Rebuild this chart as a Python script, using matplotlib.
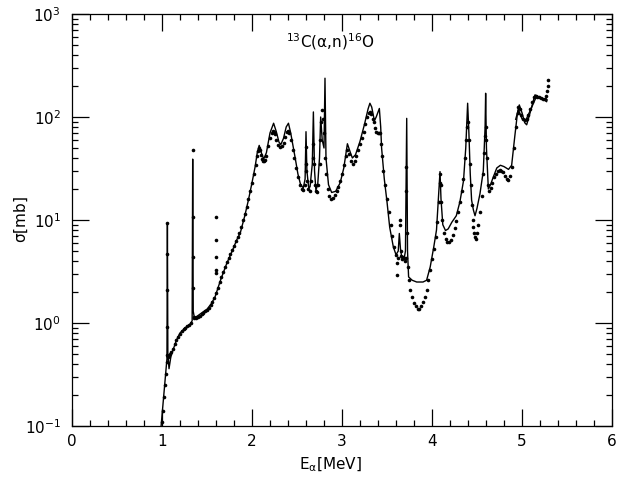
import matplotlib
matplotlib.use("Agg")
import matplotlib.pyplot as plt
from matplotlib.ticker import MultipleLocator, LogLocator, NullFormatter

plt.rcParams['font.family'] = ['DejaVu Sans']
plt.rcParams['mathtext.default'] = 'regular'

# ---- R-matrix fit (solid line) ----
fit_E = [0.99, 1.055, 1.060, 1.065, 1.078, 1.10, 1.126, 1.16, 1.20, 1.26, 1.31, 1.335,
         1.341, 1.347, 1.36, 1.40, 1.45, 1.50, 1.55, 1.59, 1.65, 1.72, 1.78, 1.83, 1.87,
         1.92, 1.96, 2.00, 2.035, 2.06, 2.08, 2.10, 2.13, 2.16, 2.20, 2.24, 2.27, 2.30,
         2.32, 2.35, 2.38, 2.405, 2.43, 2.46, 2.48, 2.51, 2.54, 2.57, 2.59, 2.600, 2.61,
         2.63, 2.645, 2.67, 2.682, 2.695, 2.71, 2.73, 2.75, 2.763, 2.78, 2.80, 2.811,
         2.822, 2.85, 2.885, 2.93, 2.98, 3.02, 3.06, 3.09, 3.115, 3.15, 3.20, 3.25, 3.29,
         3.31, 3.33, 3.36, 3.38, 3.415, 3.43, 3.44, 3.47, 3.50, 3.53, 3.57, 3.60, 3.625,
         3.637, 3.65, 3.663, 3.69, 3.705, 3.719, 3.728, 3.74, 3.78, 3.83, 3.90, 3.94, 3.98,
         4.02, 4.05, 4.075, 4.089, 4.10, 4.12, 4.15, 4.18, 4.22, 4.27, 4.31, 4.35, 4.375,
         4.396, 4.41, 4.425, 4.44, 4.46, 4.478, 4.50, 4.533, 4.57, 4.59, 4.596, 4.605,
         4.626, 4.65, 4.68, 4.72, 4.76, 4.80, 4.85, 4.885, 4.92, 4.95, 4.97, 5.00, 5.03,
         5.052, 5.09, 5.144, 5.20, 5.274]
fit_S = [0.1, 0.45, 9.3, 0.5, 0.36, 0.48, 0.56, 0.68, 0.8, 0.9, 0.97, 1.05,
         39, 1.3, 1.12, 1.18, 1.27, 1.36, 1.55, 1.8, 2.6, 3.8, 5.0, 6.4, 7.5,
         11, 15.6, 23, 33, 46, 53, 46, 39, 45, 70, 87, 72, 57,
         54, 62, 80, 87, 70, 50, 40, 28, 22, 20.5, 25, 72, 30,
         20.5, 21, 35, 112, 30, 19.5, 22, 40, 100, 60, 50, 238,
         40, 22, 18.5, 19, 23, 32, 55, 46, 40, 43, 58, 85, 120,
         136, 125, 92, 100, 121, 80, 50, 25, 15, 8.5, 5.5, 4.6, 5.0,
         7.4, 5.2, 4.4, 4.2, 5.0, 97, 5.0, 2.8, 2.6, 2.5, 2.5, 2.6, 3.5,
         5.5, 8, 18, 29.5, 16, 9, 7.9, 8.2, 9.5, 11, 15, 24, 50,
         136, 70, 28, 15.6, 12.5, 11, 13, 18, 30, 80, 170, 50,
         20, 22, 26, 32, 34, 33, 31, 34, 65, 110, 131, 110, 88,
         84, 110, 164, 155, 141]

# second fit branch at the high-energy end
fit2_E = [4.93, 4.96, 5.00, 5.04, 5.10, 5.16, 5.22, 5.28]
fit2_S = [95, 118, 96, 92, 120, 158, 152, 146]

# ---- experimental data (dots) ----
dat_E = [1.00, 1.01, 1.02, 1.03, 1.04, 1.05, 1.06, 1.06, 1.06, 1.06, 1.06,
         1.065, 1.07, 1.08, 1.09, 1.10, 1.12, 1.14, 1.16, 1.18, 1.20, 1.22, 1.24, 1.26,
         1.28, 1.30, 1.32, 1.341, 1.341, 1.341, 1.341, 1.35, 1.36, 1.38, 1.40, 1.42, 1.44,
         1.46, 1.48, 1.50, 1.52, 1.54, 1.56, 1.58, 1.597, 1.597, 1.597, 1.597, 1.597, 1.60,
         1.62, 1.64, 1.66, 1.68, 1.70, 1.72, 1.74, 1.76, 1.78, 1.80, 1.82, 1.84, 1.86,
         1.88, 1.90, 1.92, 1.94, 1.96, 1.98, 2.00, 2.02, 2.04, 2.06, 2.07, 2.08, 2.09,
         2.10, 2.11, 2.12, 2.13, 2.14, 2.16, 2.18, 2.20, 2.22, 2.23, 2.24, 2.25, 2.27,
         2.29, 2.31, 2.33, 2.35, 2.37, 2.39, 2.40, 2.41, 2.43, 2.45, 2.47, 2.49, 2.51,
         2.53, 2.55, 2.57, 2.585, 2.595, 2.60, 2.605, 2.615, 2.625, 2.64, 2.66, 2.675,
         2.682, 2.69, 2.70, 2.71, 2.72, 2.735, 2.75, 2.76, 2.77, 2.78, 2.79, 2.80, 2.81,
         2.82, 2.84, 2.86, 2.88, 2.90, 2.92, 2.94, 2.96, 2.98, 3.00, 3.02, 3.04, 3.06,
         3.08, 3.10, 3.12, 3.14, 3.16, 3.18, 3.20, 3.22, 3.24, 3.26, 3.28, 3.30, 3.31,
         3.32, 3.34, 3.35, 3.37, 3.38, 3.40, 3.41, 3.42, 3.43, 3.44, 3.46, 3.48, 3.50,
         3.52, 3.54, 3.56, 3.58, 3.60, 3.61, 3.615, 3.625, 3.64, 3.645, 3.65, 3.66, 3.67,
         3.68, 3.69, 3.70, 3.71, 3.716, 3.716, 3.72, 3.73, 3.74, 3.76, 3.78, 3.80, 3.82,
         3.84, 3.86, 3.88, 3.90, 3.92, 3.94, 3.96, 3.98, 4.00, 4.02, 4.04, 4.06, 4.075,
         4.085, 4.09, 4.095, 4.10, 4.11, 4.13, 4.15, 4.17, 4.19, 4.21, 4.23, 4.25, 4.27,
         4.29, 4.31, 4.33, 4.35, 4.37, 4.38, 4.39, 4.40, 4.41, 4.42, 4.43, 4.44, 4.45,
         4.46, 4.47, 4.48, 4.49, 4.50, 4.51, 4.53, 4.55, 4.57, 4.58, 4.59, 4.595, 4.60,
         4.61, 4.62, 4.63, 4.65, 4.67, 4.69, 4.71, 4.73, 4.75, 4.77, 4.79, 4.81, 4.83,
         4.85, 4.87, 4.89, 4.91, 4.93, 4.95, 4.96, 4.975, 4.99, 5.01, 5.03, 5.05, 5.07,
         5.09, 5.11, 5.13, 5.15, 5.17, 5.19, 5.21, 5.23, 5.25, 5.27, 5.28, 5.285, 5.29]
dat_S = [0.11, 0.14, 0.19, 0.25, 0.32, 0.42, 9.3, 4.7, 2.1, 0.91, 0.49,
         0.48, 0.47, 0.48, 0.50, 0.52, 0.56, 0.62, 0.68, 0.73, 0.78, 0.83, 0.87, 0.90,
         0.93, 0.96, 1.0, 48, 10.8, 4.35, 2.2, 1.15, 1.12, 1.12, 1.15, 1.18, 1.22,
         1.26, 1.30, 1.35, 1.40, 1.48, 1.60, 1.75, 10.8, 6.4, 4.4, 3.3, 3.05, 1.95,
         2.2, 2.5, 2.8, 3.1, 3.5, 3.9, 4.3, 4.7, 5.1, 5.6, 6.2, 6.8, 7.4,
         8.5, 10, 11.5, 13.5, 16, 19, 23, 28, 34, 42, 47, 50, 48,
         43, 39, 37, 37, 38, 42, 52, 62, 70, 73, 72, 68, 60,
         53, 51, 52, 56, 64, 71, 73, 70, 60, 48, 40, 32, 26,
         22, 20, 19.5, 22, 30, 51, 35, 24, 20, 19, 24, 40,
         55, 35, 22, 19, 18.5, 22, 35, 60, 90, 117, 95, 70, 40,
         28, 20, 17, 16, 16.5, 17.5, 19, 21, 24, 28, 34, 42, 48,
         44, 37, 35, 37, 42, 48, 55, 63, 72, 85, 100, 110, 112,
         108, 95, 90, 78, 72, 70, 70, 70, 55, 42, 30, 22, 16,
         12, 9, 7, 5.5, 4.6, 3.8, 2.9, 4.3, 10, 9, 5.0, 4.5, 4.2,
         4.4, 4.3, 4.0, 4.3, 33, 19, 7.5, 3.5, 2.6, 2.1, 1.8, 1.56, 1.45,
         1.38, 1.38, 1.45, 1.6, 1.8, 2.1, 2.6, 3.3, 4.2, 5.2, 6.8, 9.5, 15,
         23, 28, 22, 15, 10, 7.5, 6.5, 6.1, 6.1, 6.4, 7.2, 8.3, 9.8,
         12, 15, 19, 25, 40, 60, 80, 90, 60, 35, 22, 14, 10,
         8.5, 7.5, 6.8, 6.5, 7.5, 9, 12, 17, 28, 45, 65, 80, 60,
         40, 22, 19, 20.5, 23, 26, 28, 30, 30.5, 30, 29, 27, 25,
         24.5, 27, 33, 50, 80, 110, 125, 120, 105, 95, 93, 96, 105,
         120, 140, 155, 160, 158, 155, 152, 150, 150, 160, 180, 200, 230]

x_ticks = [0, 1, 2, 3, 4, 5, 6]

fig = plt.figure(figsize=(6.17, 4.84), dpi=100)
ax = fig.add_axes([72/617, 58/484, 540/617, 412/484])

ax.plot(fit_E, fit_S, color='black', lw=1.0, zorder=2)
ax.plot(fit2_E, fit2_S, color='black', lw=1.0, zorder=2)
ax.plot(dat_E, dat_S, linestyle='none', marker='o', ms=2.6, color='black',
        markeredgewidth=0, zorder=3)

ax.set_yscale('log')
ax.set_xlim(0, 6)
ax.set_ylim(0.1, 1000)
ax.set_xticks(x_ticks)
ax.xaxis.set_minor_locator(MultipleLocator(0.2))
ax.yaxis.set_minor_locator(LogLocator(base=10, subs=range(2, 10), numticks=20))
ax.yaxis.set_minor_formatter(NullFormatter())

ax.tick_params(which='both', direction='in', top=True, right=True, width=0.9, color='black')
ax.tick_params(which='major', length=12, labelsize=11)
ax.tick_params(which='minor', length=4)
ax.tick_params(axis='x', which='major', pad=6)
ax.tick_params(axis='y', which='major', pad=8)
for s in ax.spines.values():
    s.set_linewidth(0.9)

ax.set_xlabel(r'E$_{\alpha}$[MeV]', fontsize=11)
ax.set_ylabel(r'$\sigma$[mb]', fontsize=11)
ax.xaxis.set_label_coords(0.478, -0.094)
ax.yaxis.set_label_coords(-0.093, 0.5)
ax.xaxis.label.set_va('center')
ax.yaxis.label.set_va('center')
ax.text(0.478, 0.932, r'$^{13}$C($\alpha$,n)$^{16}$O', transform=ax.transAxes,
        ha='center', va='center', fontsize=11)

fig.savefig('out.png', dpi=100)
